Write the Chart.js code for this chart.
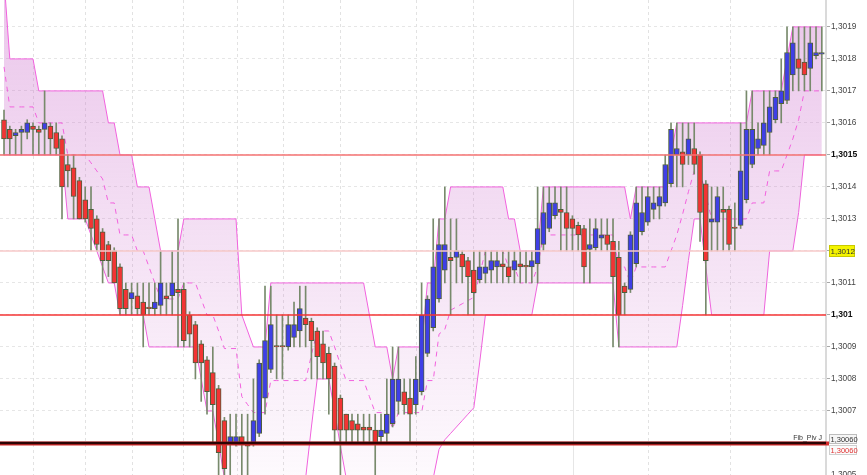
<!DOCTYPE html>
<html>
<head>
<meta charset="utf-8">
<script src="https://cdn.jsdelivr.net/npm/chart.js@4.4.1/dist/chart.umd.min.js"></script>
<style>
html, body { margin: 0; padding: 0; background: #fff; }
#wrap { width: 867px; height: 475px; position: relative; }
</style>
</head>
<body>
<div id="wrap"><canvas id="chart"></canvas></div>
<script>
// ==========================
// ======= Candles (left to right, one entry per bar)
//===========================
const opens = [
1.30161,1.30158,1.30156,1.30157,1.30157,1.30159,1.30158,1.30158,1.30159,1.30157,
1.30155,1.30147,1.30146,1.30142,1.30136,1.30133,1.30130,1.30126,1.30122,1.30120,
1.30115,1.30108,1.30105,1.30106,1.30104,1.30102,1.30102,1.30103,1.30106,1.30106,
1.30108,1.30108,1.30100,1.30097,1.30091,1.30086,1.30082,1.30077,1.30067,1.30060,
1.30060,1.30062,1.30060,1.30060,1.30063,1.30074,1.30083,1.30090,1.30090,1.30090,
1.30093,1.30095,1.30099,1.30098,1.30095,1.30091,1.30088,1.30084,1.30074,1.30069,
1.30067,1.30066,1.30065,1.30065,1.30064,1.30062,1.30063,1.30066,1.30073,1.30076,
1.30074,1.30072,1.30076,1.30088,1.30096,1.30105,1.30114,1.30118,1.30118,1.30119,
1.30117,1.30114,1.30111,1.30113,1.30114,1.30115,1.30116,1.30115,1.30114,1.30116,
1.301155,1.30115,1.30116,1.30122,1.30127,1.30131,1.30133,1.30132,1.30130,1.30128,
1.30127,1.301205,1.30121,1.30124,1.30125,1.30123,1.30118,1.30109,1.30108,1.30116,
1.30126,1.30129,1.30133,1.30134,1.30135,1.30141,1.30150,1.30151,1.30150,1.30152,
1.30150,1.30141,1.30129,1.30129,1.30133,1.30133,1.30127,1.30128,1.30136,1.30147,
1.30152,1.30153,1.30157,1.30161,1.30166,1.30167,1.30175,1.30180,1.30179,1.30177,
1.30181,1.301815
];
const highs = [
1.30164,1.30159,1.30158,1.30159,1.30161,1.30160,1.30159,1.30170,1.30160,1.30160,
1.30156,1.30150,1.30150,1.30143,1.30140,1.30140,1.30131,1.30127,1.30123,1.30121,
1.30116,1.30110,1.30110,1.30110,1.30110,1.30110,1.30110,1.30120,1.30110,1.30120,
1.30130,1.30110,1.30101,1.30098,1.30092,1.30087,1.30090,1.30078,1.30068,1.30069,
1.30069,1.30069,1.30069,1.30080,1.30086,1.30109,1.30109,1.30100,1.30100,1.30100,
1.30104,1.30109,1.30109,1.30099,1.30096,1.30095,1.30090,1.30085,1.30075,1.30069,
1.30069,1.30069,1.30069,1.30069,1.30069,1.30069,1.30080,1.30090,1.30090,1.30080,
1.30080,1.30087,1.30110,1.30106,1.30130,1.30130,1.30140,1.30130,1.30130,1.30120,
1.30118,1.30120,1.30120,1.30120,1.30120,1.30120,1.30120,1.30120,1.30120,1.30120,
1.30120,1.30120,1.30140,1.30140,1.30140,1.30140,1.30140,1.30140,1.30131,1.30129,
1.30128,1.30130,1.30130,1.30130,1.30130,1.30130,1.30123,1.30110,1.30126,1.30140,
1.30140,1.30140,1.30140,1.30140,1.30150,1.30160,1.30160,1.30160,1.30160,1.30160,
1.30151,1.30142,1.30140,1.30140,1.30140,1.30134,1.30135,1.30160,1.30170,1.30170,
1.30160,1.30170,1.30170,1.30170,1.30180,1.30190,1.30190,1.30190,1.30190,1.30190,
1.30190,1.30190
];
const lows = [
1.30150,1.30150,1.30150,1.30150,1.30155,1.30150,1.30150,1.30150,1.30150,1.30150,
1.30130,1.30140,1.30130,1.30130,1.30129,1.30120,1.30120,1.30110,1.30112,1.30110,
1.30100,1.30100,1.30100,1.30100,1.30090,1.30100,1.30100,1.30100,1.30100,1.30100,
1.30090,1.30090,1.30090,1.30080,1.30073,1.30069,1.30060,1.30050,1.30049,1.30050,
1.30059,1.30050,1.30050,1.30059,1.30062,1.30069,1.30082,1.30080,1.30080,1.30089,
1.30090,1.30090,1.30090,1.30080,1.30080,1.30080,1.30069,1.30060,1.30050,1.30060,
1.30060,1.30060,1.30060,1.30060,1.30050,1.30060,1.30060,1.30065,1.30069,1.30069,
1.30060,1.30069,1.30075,1.30087,1.30095,1.30104,1.30110,1.30100,1.30110,1.30110,
1.30100,1.30100,1.30110,1.30110,1.30110,1.30110,1.30110,1.30110,1.30110,1.30110,
1.30110,1.30110,1.30110,1.30120,1.30126,1.30130,1.30120,1.30120,1.30120,1.30120,
1.30110,1.30110,1.30120,1.30120,1.30120,1.30090,1.30090,1.30100,1.30107,1.30115,
1.30125,1.30128,1.30130,1.30130,1.30134,1.30140,1.30140,1.30140,1.30147,1.30144,
1.30123,1.30100,1.30120,1.30120,1.30120,1.30120,1.30120,1.30127,1.30135,1.30146,
1.30150,1.30150,1.30150,1.30160,1.30160,1.30166,1.30170,1.30170,1.30170,1.30170,
1.30180,1.30170
];
const closes = [
1.30155,1.30155,1.30157,1.30158,1.30160,1.30158,1.30157,1.30160,1.30155,1.30152,
1.30140,1.30145,1.30137,1.30130,1.30130,1.30127,1.30122,1.30117,1.30117,1.30110,
1.30102,1.30102,1.30107,1.30102,1.30100,1.30102,1.30104,1.30110,1.30105,1.30110,
1.30107,1.30092,1.30094,1.30085,1.30085,1.30076,1.30072,1.30057,1.30052,1.30062,
1.30062,1.30060,1.30059,1.30067,1.30085,1.30092,1.30097,1.30090,1.30090,1.30097,
1.30097,1.30102,1.30097,1.30092,1.30087,1.30085,1.30080,1.30064,1.30064,1.30064,
1.30064,1.30064,1.30064,1.30064,1.30060,1.30064,1.30069,1.30080,1.30080,1.30072,
1.30069,1.30080,1.30100,1.30105,1.30115,1.30122,1.30122,1.30117,1.30120,1.30115,
1.30112,1.30107,1.30115,1.30115,1.30117,1.30117,1.30115,1.30112,1.30117,1.30115,
1.30115,1.30117,1.30127,1.30132,1.30135,1.30135,1.30132,1.30127,1.30127,1.30125,
1.30115,1.30122,1.30127,1.30125,1.30122,1.30112,1.30100,1.30107,1.30125,1.30135,
1.30132,1.30137,1.30135,1.30137,1.30147,1.30158,1.30152,1.30147,1.30155,1.30147,
1.30132,1.30117,1.30130,1.30137,1.30132,1.30122,1.30127,1.30145,1.30158,1.30158,
1.30155,1.30160,1.30165,1.30168,1.30170,1.30182,1.30185,1.30177,1.30175,1.30185,
1.30182,1.30182
];
// ==========================
// ======= Channel (upper / lower / middle)
//===========================
const upperBand = [
1.30205,1.3018,1.3018,1.3018,1.3018,1.3018,1.3017,1.3017,1.3017,1.3017,
1.3017,1.3017,1.3017,1.3017,1.3017,1.3017,1.3017,1.3017,1.3016,1.3016,
1.3015,1.3015,1.3015,1.3014,1.3014,1.3014,1.3013,1.3012,1.3012,1.3012,
1.3012,1.3013,1.3013,1.3013,1.3013,1.3013,1.3013,1.3013,1.3013,1.3013,
1.3013,1.3010,1.30095,1.3009,1.3009,1.3009,1.3011,1.3011,1.3011,1.3011,
1.3011,1.3011,1.3011,1.3011,1.3011,1.3011,1.3011,1.3011,1.3011,1.3011,
1.3011,1.3011,1.3011,1.3010,1.3009,1.3009,1.3009,1.3008,1.3009,1.3009,
1.3009,1.3009,1.3009,1.3011,1.3011,1.3013,1.3013,1.3014,1.3014,1.3014,
1.3014,1.3014,1.3014,1.3014,1.3014,1.3014,1.3014,1.3013,1.3013,1.3012,
1.3012,1.3012,1.3012,1.3014,1.3014,1.3014,1.3014,1.3014,1.3014,1.3014,
1.3014,1.3014,1.3014,1.3014,1.3014,1.3014,1.3014,1.3014,1.3013,1.3014,
1.3014,1.3014,1.3014,1.3014,1.3014,1.3015,1.3016,1.3016,1.3016,1.3016,
1.3016,1.3016,1.3016,1.3016,1.3016,1.3016,1.3016,1.3016,1.3016,1.3017,
1.3017,1.3017,1.3017,1.3017,1.3017,1.3018,1.3019,1.3019,1.3019,1.3019,
1.3019,1.3019
];
const lowerBand = [
1.3015,1.3015,1.3015,1.3015,1.3015,1.3015,1.3015,1.3015,1.3015,1.3015,
1.3015,1.3013,1.3013,1.3013,1.3013,1.30125,1.3012,1.30115,1.3011,1.3011,
1.3010,1.3010,1.3010,1.3010,1.3010,1.3009,1.3009,1.3009,1.3009,1.3009,
1.3009,1.3009,1.3009,1.3009,1.3008,1.3007,1.3007,1.3006,1.30049,1.30049,
1.30049,1.30049,1.30049,1.30049,1.30049,1.30049,1.30049,1.30049,1.30049,1.30049,
1.30049,1.30049,1.30049,1.30065,1.3008,1.3008,1.3008,1.3007,1.30059,1.30049,
1.30049,1.30049,1.30049,1.30049,1.30049,1.30049,1.30049,1.30049,1.30049,1.30049,
1.30049,1.30049,1.30049,1.30049,1.30049,1.30058,1.30061,1.30063,1.30065,1.30067,
1.30069,1.30071,1.30085,1.3010,1.3010,1.3010,1.3010,1.3010,1.3010,1.3010,
1.3010,1.3010,1.3011,1.3011,1.3011,1.3011,1.3011,1.3011,1.3011,1.3011,
1.3011,1.3011,1.3011,1.3011,1.3011,1.3011,1.3009,1.3009,1.3009,1.3009,
1.3009,1.3009,1.3009,1.3009,1.3009,1.3009,1.3009,1.30103,1.30117,1.3013,
1.3013,1.30115,1.3010,1.3010,1.3010,1.3010,1.3010,1.3010,1.3010,1.3010,
1.3010,1.3010,1.3012,1.3012,1.3012,1.3012,1.3012,1.30132,1.3015,1.3015,
1.3015,1.3015
];
const midBand = [
1.301775,1.30165,1.30165,1.30165,1.30165,1.30165,1.3016,1.3016,1.3016,1.3016,
1.3016,1.3015,1.3015,1.3015,1.3015,1.301475,1.30145,1.301425,1.30135,1.30135,
1.30125,1.30125,1.30125,1.3012,1.3012,1.30115,1.3011,1.30105,1.30105,1.30105,
1.30105,1.3011,1.3011,1.3011,1.30105,1.3010,1.3010,1.30095,1.300895,1.300895,
1.300895,1.300745,1.30072,1.300695,1.300695,1.300695,1.300795,1.300795,1.300795,1.300795,
1.300795,1.300795,1.300795,1.300875,1.30095,1.30095,1.30095,1.3009,1.300845,1.300795,
1.300795,1.300795,1.300795,1.300745,1.300695,1.300695,1.300695,1.300645,1.300695,1.300695,
1.300695,1.300695,1.300695,1.300795,1.300795,1.30094,1.300955,1.301015,1.301025,1.301035,
1.301045,1.301055,1.301125,1.3012,1.3012,1.3012,1.3012,1.30115,1.30115,1.3011,
1.3011,1.3011,1.30115,1.30125,1.30125,1.30125,1.30125,1.30125,1.30125,1.30125,
1.30125,1.30125,1.30125,1.30125,1.30125,1.30125,1.30115,1.30115,1.3011,1.30115,
1.30115,1.30115,1.30115,1.30115,1.30115,1.3012,1.30125,1.301315,1.301385,1.30145,
1.30145,1.301375,1.3013,1.3013,1.3013,1.3013,1.3013,1.3013,1.3013,1.30135,
1.30135,1.30135,1.30145,1.30145,1.30145,1.3015,1.30155,1.30161,1.3017,1.3017,
1.3017,1.3017
];
// price axis ticks, horizontal levels, time separators (bar index)
const yTicks = [1.3005,1.3006,1.3007,1.3008,1.3009,1.3010,1.3011,1.3012,1.3013,1.3014,1.3015,1.3016,1.3017,1.3018,1.3019];
const boldTicks = [1.3015, 1.3010];
const levels = [1.3015, 1.3012, 1.3010, 1.3006];
const pivotName = 'Fib_Piv J';
const timeGrid = [5, 14, 22.1, 30.9, 40.2, 48.1, 57.9, 71, 80.9, 111, 125.2];
const daySeparator = [98.15];

const pink = '#f262de';
const font = "'Liberation Sans', Arial, sans-serif";
const fmt = (v, d) => Number(v.toFixed(d)).toString().replace('.', ',');

const points = (arr) => arr.map((v, i) => ({x: i, y: v}));
const wicks = lows.map((l, i) => ({x: i, y: [l, highs[i]]}));
const bodies = opens.map((o, i) => ({x: i, y: [o, closes[i]]}));

// levels, separators and labels drawn on top of the library's scales
const overlay = {
    id: 'overlay',
    beforeDatasetsDraw(chart) {
        const {ctx, chartArea: a, scales: {x}} = chart;
        ctx.save();
        ctx.lineWidth = 1;
        ctx.strokeStyle = '#e2e2e2';
        ctx.setLineDash([3, 3]);
        timeGrid.forEach(t => {
            const px = Math.round(x.getPixelForValue(t)) + 0.5;
            ctx.beginPath(); ctx.moveTo(px, a.top); ctx.lineTo(px, a.bottom); ctx.stroke();
        });
        ctx.setLineDash([]);
        ctx.strokeStyle = '#e6e6e6';
        daySeparator.forEach(t => {
            const px = Math.round(x.getPixelForValue(t)) + 0.5;
            ctx.beginPath(); ctx.moveTo(px, a.top); ctx.lineTo(px, a.bottom); ctx.stroke();
        });
        ctx.restore();
    },
    afterDatasetsDraw(chart) {
        const {ctx, chartArea: a, scales: {y}} = chart;
        const styles = [
            {color: '#f47272', width: 1.6},
            {color: '#f7c8c8', width: 1.6},
            {color: '#f43434', width: 1.3}
        ];
        ctx.save();
        levels.forEach((lv, i) => {
            const py = Math.round(y.getPixelForValue(lv));
            if (i < 3) {
                ctx.strokeStyle = styles[i].color;
                ctx.lineWidth = styles[i].width;
                ctx.beginPath(); ctx.moveTo(a.left, py); ctx.lineTo(a.right, py); ctx.stroke();
            } else {
                // pivot line: red under a dark maroon band
                ctx.strokeStyle = '#d42a2a';
                ctx.lineWidth = 4;
                ctx.beginPath(); ctx.moveTo(a.left, py + 0.5); ctx.lineTo(a.right + 3, py + 0.5); ctx.stroke();
                ctx.strokeStyle = '#2c0404';
                ctx.lineWidth = 2.5;
                ctx.beginPath(); ctx.moveTo(a.left, py); ctx.lineTo(a.right, py); ctx.stroke();
            }
        });
        ctx.restore();
    },
    afterDraw(chart) {
        const {ctx, chartArea: a, scales: {y}} = chart;
        ctx.save();
        ctx.textBaseline = 'middle';
        // yellow box for 1,3012
        const y12 = Math.round(y.getPixelForValue(levels[1]));
        ctx.fillStyle = '#f4f400';
        ctx.fillRect(829, y12 - 6, 26, 12);
        ctx.strokeStyle = '#c9c900';
        ctx.lineWidth = 1;
        ctx.strokeRect(829.5, y12 - 5.5, 25, 11);
        ctx.fillStyle = '#333';
        ctx.font = `8px ${font}`;
        ctx.fillText(fmt(levels[1], 4), 830.5, y12 + 0.5);
        // pivot boxes
        const yp = Math.round(y.getPixelForValue(levels[3]));
        const pTxt = levels[3].toFixed(5).replace('.', ',');
        ctx.font = `7.5px ${font}`;
        ctx.fillStyle = '#f6f6f6';
        ctx.fillRect(829, yp - 9, 28, 10);
        ctx.strokeStyle = '#bdbdbd';
        ctx.strokeRect(829.5, yp - 8.5, 27, 9);
        ctx.fillStyle = '#333';
        ctx.fillText(pTxt, 830.5, yp - 3.5);
        ctx.fillStyle = '#fbfbfb';
        ctx.fillRect(829, yp + 2, 28, 10);
        ctx.strokeStyle = '#cfcfcf';
        ctx.strokeRect(829.5, yp + 2.5, 27, 9);
        ctx.fillStyle = '#e03434';
        ctx.fillText(pTxt, 830.5, yp + 7.5);
        // pivot name above the line
        ctx.font = `7px ${font}`;
        ctx.fillStyle = '#333';
        ctx.textAlign = 'right';
        ctx.fillText(pivotName, a.right - 4, yp - 5);
        ctx.restore();
    }
};

new Chart(document.querySelector('#chart'), {
    type: 'bar',
    data: {
        datasets: [
            {
                type: 'line', label: 'upper', data: points(upperBand),
                borderColor: pink, borderWidth: 1, pointRadius: 0, tension: 0,
                fill: '+1', order: 5,
                backgroundColor: (c) => {
                    const area = c.chart.chartArea;
                    if (!area) return 'rgba(205,120,205,0.2)';
                    const g = c.chart.ctx.createLinearGradient(0, area.top, 0, area.bottom);
                    g.addColorStop(0, 'rgba(205,115,205,0.40)');
                    g.addColorStop(1, 'rgba(205,115,205,0.04)');
                    return g;
                }
            },
            {
                type: 'line', label: 'lower', data: points(lowerBand),
                borderColor: pink, borderWidth: 1, pointRadius: 0, tension: 0,
                fill: false, order: 5
            },
            {
                type: 'line', label: 'middle', data: points(midBand),
                borderColor: pink, borderWidth: 1, borderDash: [5, 5], pointRadius: 0, tension: 0,
                fill: false, order: 4
            },
            {
                label: 'wicks', data: wicks,
                backgroundColor: '#788a6c', barThickness: 1, grouped: false, order: 2
            },
            {
                label: 'bodies', data: bodies,
                backgroundColor: (c) => {
                    const i = c.dataIndex;
                    return closes[i] > opens[i] ? '#3f3fe6' : '#f23434';
                },
                borderColor: '#4e5e3c', borderWidth: 1, borderSkipped: false,
                barThickness: 5, minBarLength: 1.5, grouped: false, order: 1
            }
        ]
    },
    options: {
        responsive: true,
        maintainAspectRatio: false,
        animation: false,
        layout: {padding: 0},
        plugins: {legend: {display: false}, tooltip: {enabled: false}},
        scales: {
            x: {type: 'linear', min: -0.69, max: 141.72, display: false, offset: false},
            y: {
                position: 'right',
                min: 1.3005,
                max: 1.301984,
                afterBuildTicks: (scale) => { scale.ticks = yTicks.map(v => ({value: v})); },
                afterFit: (scale) => { scale.width = 41; scale.paddingTop = 0; scale.paddingBottom = 0; },
                grid: {color: '#e6e6e6', lineWidth: 1, tickLength: 4, tickColor: '#a8a8a8', tickBorderDash: []},
                border: {display: true, color: '#dadada', width: 2, dash: [3, 3]},
                ticks: {
                    autoSkip: false,
                    padding: 1,
                    callback: (v) => (v === levels[1] || v === levels[3]) ? '' : fmt(v, 4),
                    color: (c) => boldTicks.includes(c.tick && c.tick.value) ? '#111' : '#444',
                    font: (c) => boldTicks.includes(c.tick && c.tick.value)
                        ? {family: font, size: 8.6, weight: 'bold'}
                        : {family: font, size: 8.3}
                }
            }
        }
    },
    plugins: [overlay]
});
</script>
</body>
</html>
